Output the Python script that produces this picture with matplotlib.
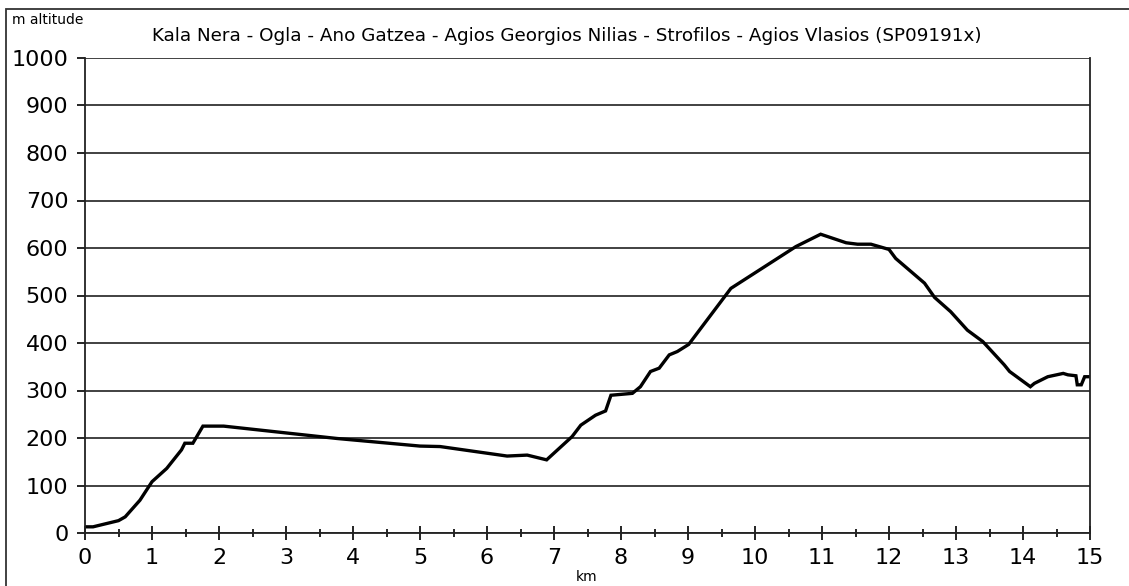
import numpy as np
import matplotlib
matplotlib.use("Agg")
import matplotlib.pyplot as plt
from matplotlib.patches import Rectangle

plt.rcParams['font.family'] = ['DejaVu Sans']

# elevation profile
km = [0.0, 0.12, 0.5, 0.6, 0.82, 1.0, 1.22, 1.44, 1.49, 1.61, 1.76, 2.07,
      3.76, 5.0, 5.3, 6.3, 6.6, 6.89, 7.27, 7.4, 7.62, 7.77, 7.85, 8.17,
      8.29, 8.44, 8.57, 8.72, 8.84, 9.01, 9.64, 10.61, 10.98, 11.36, 11.53,
      11.73, 12.0, 12.1, 12.53, 12.68, 12.92, 13.17, 13.4, 13.72, 13.8,
      14.11, 14.17, 14.37, 14.6, 14.67, 14.79, 14.81, 14.87, 14.92, 15.0]
alt = [13, 13, 26, 34, 69, 108, 136, 175, 189, 189, 225, 225,
       199, 183, 182, 162, 164, 154, 203, 227, 248, 257, 290, 294,
       308, 340, 347, 375, 382, 397, 515, 603, 629, 611, 608,
       608, 597, 578, 526, 496, 466, 427, 403, 354, 340,
       308, 315, 329, 336, 333, 331, 312, 312, 329, 329]

title = "Kala Nera - Ogla - Ano Gatzea - Agios Georgios Nilias - Strofilos - Agios Vlasios (SP09191x)"

fig = plt.figure(figsize=(11.29, 5.86), dpi=100)
ax = fig.add_axes([85 / 1129, 1 - 533 / 586, (1090 - 85) / 1129, (533 - 58) / 586])

ax.set_xlim(0, 15)
ax.set_ylim(0, 1000)
ax.set_yticks(np.arange(0, 1001, 100))
ax.set_xticks(np.arange(0, 16, 1))
ax.set_xticks(np.arange(0.5, 15, 1), minor=True)
ax.yaxis.grid(True, color='#333333', lw=1.3)
ax.set_axisbelow(True)

ax.plot(km, alt, color='black', lw=2.4, solid_joinstyle='miter')

ax.spines['top'].set_visible(False)
for s in ['left', 'bottom', 'right']:
    ax.spines[s].set_linewidth(1.3)
    ax.spines[s].set_color('#222222')

ax.tick_params(axis='y', length=6, width=1.2, labelsize=16, pad=6, direction='out')
ax.tick_params(axis='x', which='major', length=10, width=1.2, labelsize=16,
               pad=6, direction='inout')
ax.tick_params(axis='x', which='minor', length=6, width=1.2, direction='inout')

fig.text(567 / 1129, 1 - 36 / 586, title, ha='center', va='center', fontsize=13.2)
fig.text(12 / 1129, 1 - 20 / 586, "m altitude", ha='left', va='center', fontsize=10)
fig.text(587 / 1129, 1 - 577 / 586, "km", ha='center', va='center', fontsize=10)

# outer frame (only top and left edges are visible in the crop)
fig.add_artist(Rectangle((6 / 1129, -0.05), 1.2, 1 - 9 / 586 + 0.05,
                         transform=fig.transFigure, fill=False,
                         edgecolor='#333333', lw=1.3))

fig.savefig("out.png", dpi=100)
